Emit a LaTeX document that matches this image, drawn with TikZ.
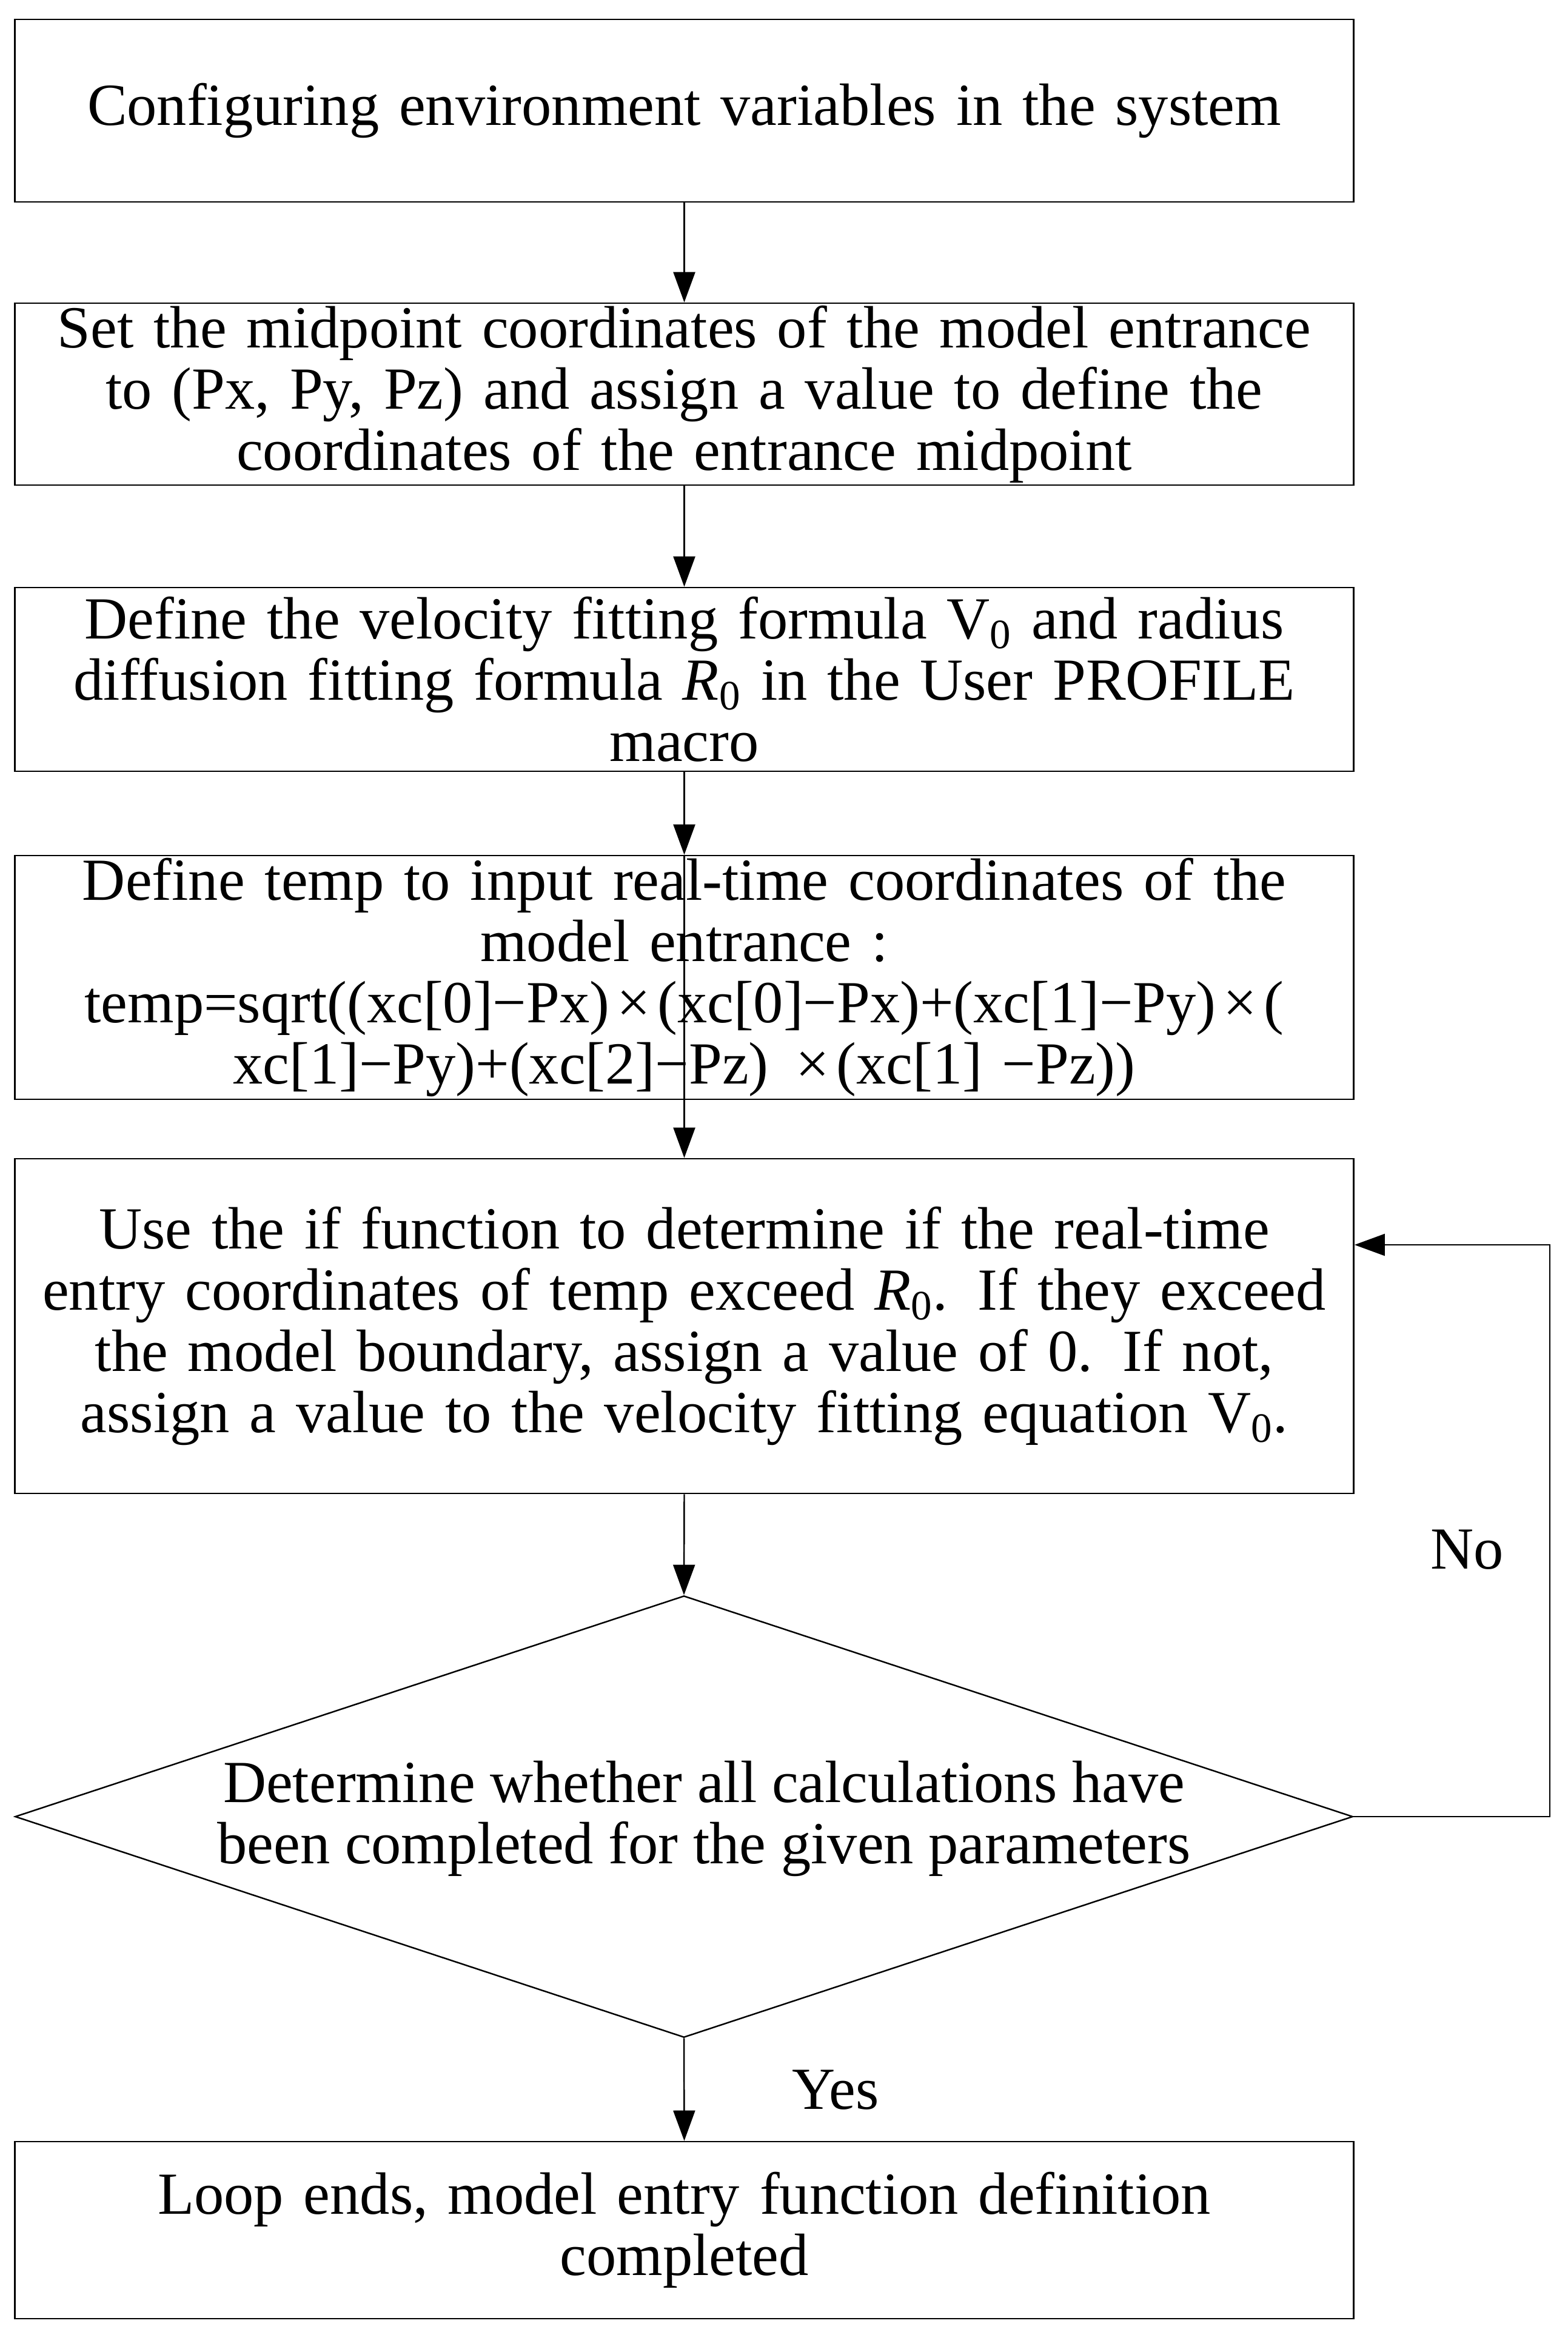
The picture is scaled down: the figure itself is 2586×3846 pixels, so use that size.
\documentclass[tikz,border=0pt]{standalone}
\usepackage{fontspec}
\setmainfont{Liberation Serif}
\usetikzlibrary{shapes.geometric,arrows.meta}
\newcommand{\mytimes}{\hspace{0.12em}×\hspace{0.12em}}
\begin{document}
\begin{tikzpicture}[x=0.01cm,y=-0.01cm,
  every node/.style={font=\fontsize{28}{28.7}\selectfont},
  stepbox/.style={draw, line width=0.7pt, rectangle, minimum width=22.07cm, inner sep=0pt, text width=21.9cm, align=center},
  arr/.style={line width=0.7pt, -{Triangle[length=0.5cm,width=0.36cm]}},
  lbl/.style={inner sep=0pt}]
\useasboundingbox (0,0) rectangle (2586,3846);
\fill[white] (0,0) rectangle (2586,3846);
\node[stepbox, minimum height=3.01cm] (b1) at (1128.5,182.5) {Configuring environment variables in the system};
\node[stepbox, minimum height=3.00cm] (b2) at (1128.5,650) {Set the midpoint coordinates of the model entrance\\to (Px, Py, Pz) and assign a value to define the\\coordinates of the entrance midpoint};
\node[stepbox, minimum height=3.03cm] (b3) at (1128.5,1120.5) {Define the velocity fitting formula V\textsubscript{0} and radius\\diffusion fitting formula \textit{R}\textsubscript{0} in the User PROFILE\\macro};
\node[stepbox, minimum height=4.02cm] (b4) at (1128.5,1612) {Define temp to input real-time coordinates of the\\model entrance :\\temp=sqrt((xc[0]−Px)\mytimes(xc[0]−Px)+(xc[1]−Py)\mytimes(\\xc[1]−Py)+(xc[2]−Pz) \mytimes(xc[1] −Pz))};
\node[stepbox, minimum height=5.52cm] (b5) at (1128.5,2187) {Use the if function to determine if the real-time\\entry coordinates of temp exceed \textit{R}\textsubscript{0}. If they exceed\\the model boundary, assign a value of 0. If not,\\assign a value to the velocity fitting equation V\textsubscript{0}.};
\node[draw, line width=0.7pt, diamond, minimum width=22.05cm, minimum height=7.28cm, inner sep=0pt] (dia) at (1128,2996) {};
\node[lbl, align=center] (dtext) at (1161,2999) {Determine whether all calculations have\\been completed for the given parameters};
\node[stepbox, minimum height=2.92cm] (b6) at (1128.5,3678) {Loop ends, model entry function definition\\completed};
\node[lbl] (no) at (2420,2556) {No};
\node[lbl] (yes) at (1378,3447) {Yes};
\coordinate (lp) at (2556,2053);
\draw[arr] (b1.south) -- (b2.north);
\draw[arr] (b2.south) -- (b3.north);
\draw[arr] (b3.south) -- (b4.north);
\draw[arr] (b4.north) -- (b5.north);
\draw[arr] (b5.south) -- (dia.north);
\draw[arr] (dia.south) -- (b6.north);
\draw[arr] (dia.east) -| (lp) -- (b5.east |- lp);
\end{tikzpicture}
\end{document}
